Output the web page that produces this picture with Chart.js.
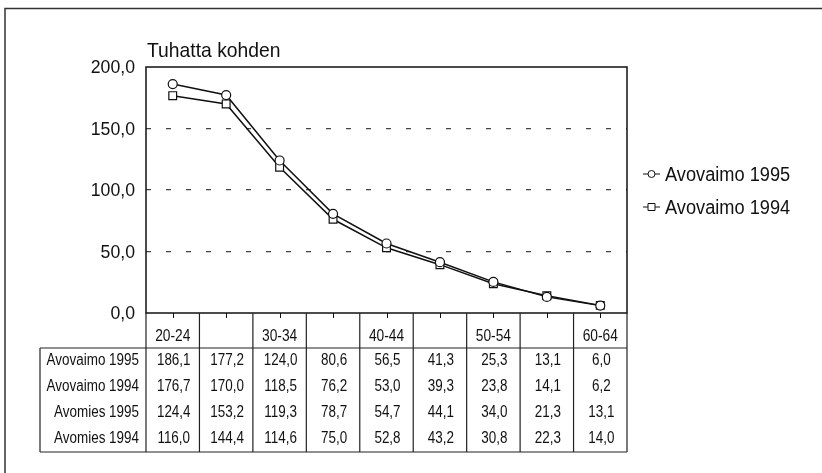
<!DOCTYPE html>
<html>
<head>
<meta charset="utf-8">
<script src="https://cdn.jsdelivr.net/npm/chart.js@4"></script>
<style>
  html, body { margin: 0; padding: 0; background: #fff; }
  #wrap { width: 822px; height: 473px; }
</style>
</head>
<body>
<div id="wrap"><canvas id="chart" width="822" height="473"></canvas></div>
<script>
const ageGroups = ['20-24', '25-29', '30-34', '35-39', '40-44', '45-49', '50-54', '55-59', '60-64'];
const headerLabels = ['20-24', '', '30-34', '', '40-44', '', '50-54', '', '60-64'];
const avovaimo1995 = [186.1, 177.2, 124.0, 80.6, 56.5, 41.3, 25.3, 13.1, 6.0];
const avovaimo1994 = [176.7, 170.0, 118.5, 76.2, 53.0, 39.3, 23.8, 14.1, 6.2];
const avomies1995 = [124.4, 153.2, 119.3, 78.7, 54.7, 44.1, 34.0, 21.3, 13.1];
const avomies1994 = [116.0, 144.4, 114.6, 75.0, 52.8, 43.2, 30.8, 22.3, 14.0];
const yTicks = [0, 50, 100, 150, 200];

const tableRows = [
    { label: 'Avovaimo 1995', values: avovaimo1995 },
    { label: 'Avovaimo 1994', values: avovaimo1994 },
    { label: 'Avomies 1995', values: avomies1995 },
    { label: 'Avomies 1994', values: avomies1994 }
];

const FONT = '"Liberation Sans", Arial, sans-serif';
const fmt = v => v.toFixed(1).replace('.', ',');

// narrow text: regular font squeezed horizontally
function drawText(ctx, text, x, y, size, sx, align) {
    ctx.save();
    ctx.font = size + 'px ' + FONT;
    ctx.textAlign = align;
    ctx.translate(x, y);
    ctx.scale(sx, 1);
    ctx.fillText(text, 0, 0);
    ctx.restore();
}

// draws the frame, title, y labels, legend and the data table
const extras = {
    id: 'extras',
    afterDraw(chart) {
        const ctx = chart.ctx;
        const a = chart.chartArea;
        const x = chart.scales.x;
        const y = chart.scales.y;
        const n = ageGroups.length;
        const colW = (a.right - a.left) / n;
        ctx.save();

        // outer page border (top and left only)
        ctx.strokeStyle = '#333';
        ctx.lineWidth = 1.5;
        ctx.beginPath();
        ctx.moveTo(5, 473); ctx.lineTo(5, 8.5); ctx.lineTo(822, 8.5);
        ctx.stroke();

        // plot frame
        ctx.strokeStyle = '#111';
        ctx.lineWidth = 1.5;
        ctx.strokeRect(a.left, a.top, a.right - a.left, a.bottom - a.top);

        ctx.fillStyle = '#111';
        ctx.textBaseline = 'alphabetic';
        drawText(ctx, 'Tuhatta kohden', a.left + 1, 57, 21, 0.92, 'left');

        // y labels
        ctx.textBaseline = 'middle';
        yTicks.forEach(v => {
            drawText(ctx, fmt(v), 135, y.getPixelForValue(v) + 1, 19, 0.93, 'right');
        });

        // x tick marks
        ctx.lineWidth = 1;
        ctx.beginPath();
        for (let i = 0; i < n; i++) {
            const px = Math.round(x.getPixelForValue(i)) + 0.5;
            ctx.moveTo(px, a.bottom); ctx.lineTo(px, a.bottom + 5);
        }
        ctx.stroke();

        // table
        const headBottom = 348;
        const tableBottom = 452;
        const labelLeft = 40;
        ctx.lineWidth = 1.2;
        ctx.strokeStyle = '#222';
        ctx.beginPath();
        for (let i = 0; i <= n; i++) {
            const px = a.left + i * colW;
            ctx.moveTo(px, a.bottom); ctx.lineTo(px, tableBottom);
        }
        ctx.moveTo(labelLeft, headBottom); ctx.lineTo(a.right, headBottom);
        ctx.moveTo(labelLeft, tableBottom); ctx.lineTo(a.right, tableBottom);
        ctx.moveTo(labelLeft, headBottom); ctx.lineTo(labelLeft, tableBottom);
        ctx.stroke();

        ctx.textBaseline = 'middle';
        headerLabels.forEach((lab, i) => {
            drawText(ctx, lab, x.getPixelForValue(i), 337, 16, 0.86, 'center');
        });
        tableRows.forEach((row, r) => {
            const cy = 361 + r * 26;
            drawText(ctx, row.label, a.left - 7, cy, 16, 0.84, 'right');
            row.values.forEach((v, i) => {
                drawText(ctx, fmt(v), x.getPixelForValue(i) + 1, cy, 16, 0.84, 'center');
            });
        });

        // legend
        const legend = [
            { text: 'Avovaimo 1995', style: 'circle' },
            { text: 'Avovaimo 1994', style: 'rect' }
        ];
        legend.forEach((item, k) => {
            const ly = 174 + k * 33;
            ctx.lineWidth = 1;
            ctx.strokeStyle = '#111';
            ctx.beginPath();
            ctx.moveTo(643, ly); ctx.lineTo(660, ly);
            ctx.stroke();
            ctx.fillStyle = '#fff';
            ctx.beginPath();
            if (item.style === 'circle') ctx.arc(651.5, ly, 3.5, 0, Math.PI * 2);
            else ctx.rect(648, ly - 3.5, 7, 7);
            ctx.fill(); ctx.stroke();
            ctx.fillStyle = '#111';
            drawText(ctx, item.text, 665, ly + 1, 20, 0.91, 'left');
        });

        ctx.restore();
    }
};

new Chart(document.getElementById('chart'), {
    type: 'line',
    data: {
        labels: ageGroups,
        datasets: [
            {
                label: 'Avovaimo 1995',
                data: avovaimo1995,
                borderColor: '#111',
                borderWidth: 1.5,
                pointStyle: 'circle',
                pointRadius: 4.5,
                pointBackgroundColor: '#fff',
                pointBorderColor: '#111',
                pointBorderWidth: 1.2,
                tension: 0
            },
            {
                label: 'Avovaimo 1994',
                data: avovaimo1994,
                borderColor: '#111',
                borderWidth: 1.5,
                pointStyle: 'rect',
                pointRadius: 5.5,
                pointBackgroundColor: '#fff',
                pointBorderColor: '#111',
                pointBorderWidth: 1.2,
                tension: 0
            }
        ]
    },
    options: {
        responsive: false,
        animation: false,
        layout: { padding: { left: 0, top: 67, right: 195, bottom: 160 } },
        plugins: {
            legend: { display: false },
            tooltip: { enabled: false }
        },
        scales: {
            x: {
                type: 'category',
                offset: true,
                display: false
            },
            y: {
                min: 0,
                max: 200,
                afterFit: s => { s.width = 146; },
                afterBuildTicks: s => { s.ticks = yTicks.map(v => ({ value: v })); },
                border: { display: false, dash: [5, 15] },
                grid: {
                    drawTicks: false,
                    color: c => (c.tick.value === 0 || c.tick.value === 200) ? 'rgba(0,0,0,0)' : '#444',
                    lineWidth: 1.3
                },
                ticks: { display: false }
            }
        }
    },
    plugins: [extras]
});
</script>
</body>
</html>
